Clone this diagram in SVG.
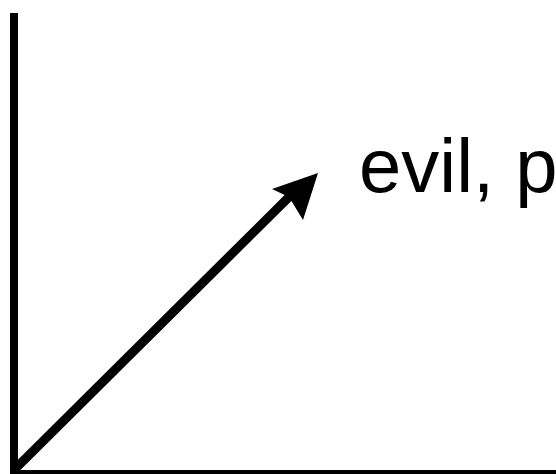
<svg xmlns="http://www.w3.org/2000/svg" width="556" height="474" viewBox="0 0 556 474">
<style>
.axis{stroke:#000;stroke-width:8;fill:none}
.lbl{font-family:"Liberation Sans",Arial,sans-serif;font-size:76px;fill:#000}
</style>
<rect width="556" height="474" fill="#fff"/>
<g id="axes">
<line class="axis" x1="14" y1="13" x2="14" y2="474"/>
<line class="axis" x1="10" y1="474" x2="556" y2="474"/>
</g>
<g id="connectors">
<line x1="14" y1="470" x2="290" y2="196" stroke="#000" stroke-width="9"/>
<polygon points="318,173 303,220 289,197 272,189" fill="#000"/>
</g>
<g id="label">
<text class="lbl" x="359" y="192">evil, p</text>
</g>
</svg>
